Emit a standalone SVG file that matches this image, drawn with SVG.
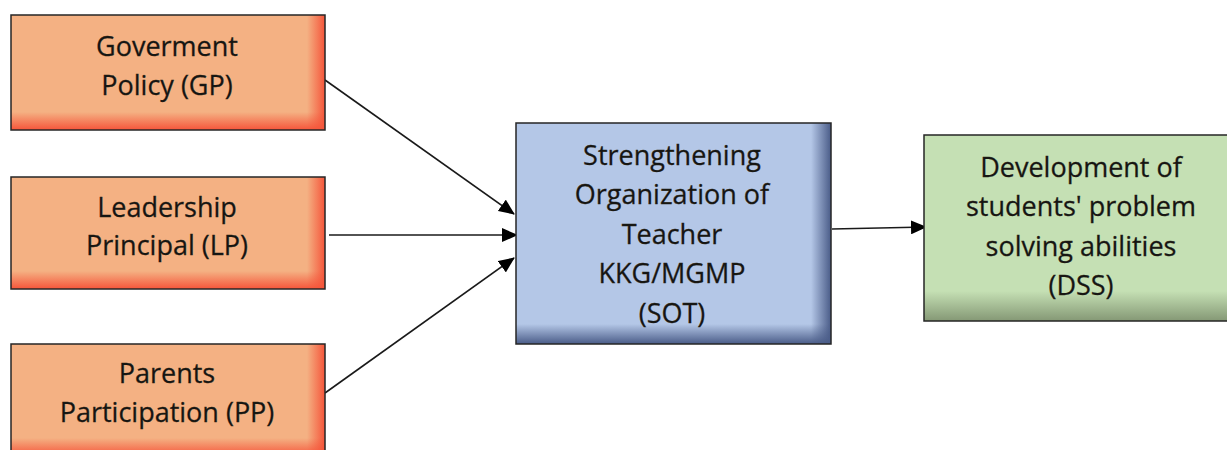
<svg xmlns="http://www.w3.org/2000/svg" width="1227" height="450" viewBox="0 0 1227 450">
<style>
.box{stroke:#262626;stroke-width:1.5}
.lbl{font-family:"Open Sans","Liberation Sans",sans-serif;font-size:27px;fill:#141414;stroke:#2a2410;stroke-width:0.3;text-anchor:middle}
.conn{stroke:#1a1a1a;stroke-width:1.6;fill:none;marker-end:url(#ah)}
</style>
<defs>
<marker id="ah" viewBox="0 0 16 14" refX="15" refY="7" markerWidth="16" markerHeight="14" markerUnits="userSpaceOnUse" orient="auto">
<path d="M0,0 L16,7 L0,14 Z" fill="#000"/>
</marker>
<linearGradient id="oR" x1="0" y1="0" x2="1" y2="0"><stop offset="0" stop-color="#F5553A" stop-opacity="0"/><stop offset="1" stop-color="#F5553A" stop-opacity="1"/></linearGradient>
<linearGradient id="oB" x1="0" y1="0" x2="0" y2="1"><stop offset="0" stop-color="#F5553A" stop-opacity="0"/><stop offset="1" stop-color="#F5553A" stop-opacity="1"/></linearGradient>
<linearGradient id="bR" x1="0" y1="0" x2="1" y2="0"><stop offset="0" stop-color="#4A5C88" stop-opacity="0"/><stop offset="1" stop-color="#4A5C88" stop-opacity="1"/></linearGradient>
<linearGradient id="bB" x1="0" y1="0" x2="0" y2="1"><stop offset="0" stop-color="#4A5C88" stop-opacity="0"/><stop offset="1" stop-color="#4A5C88" stop-opacity="1"/></linearGradient>
<linearGradient id="gB" x1="0" y1="0" x2="0" y2="1"><stop offset="0" stop-color="#6F8060" stop-opacity="0"/><stop offset="1" stop-color="#6F8060" stop-opacity="1"/></linearGradient>
</defs>

<g id="connectors">
<line class="conn" x1="325" y1="80" x2="514" y2="214"/>
<line class="conn" x1="329" y1="235" x2="517" y2="235"/>
<line class="conn" x1="325" y1="393" x2="514" y2="258"/>
<line class="conn" x1="832" y1="229" x2="926" y2="227"/>
</g>

<g id="GP">
<rect x="11" y="15" width="314" height="115" fill="#F4B183"/>
<rect x="307" y="15" width="18" height="115" fill="url(#oR)"/>
<rect x="11" y="112" width="314" height="18" fill="url(#oB)"/>
<rect class="box" x="11" y="15" width="314" height="115" fill="none"/>
<text class="lbl" x="167" y="56">Goverment</text>
<text class="lbl" x="167" y="95">Policy (GP)</text>
</g>

<g id="LP">
<rect x="11" y="177" width="314" height="112" fill="#F4B183"/>
<rect x="307" y="177" width="18" height="112" fill="url(#oR)"/>
<rect x="11" y="271" width="314" height="18" fill="url(#oB)"/>
<rect class="box" x="11" y="177" width="314" height="112" fill="none"/>
<text class="lbl" x="167" y="217">Leadership</text>
<text class="lbl" x="167" y="255">Principal (LP)</text>
</g>

<g id="PP">
<rect x="11" y="344" width="314" height="112" fill="#F4B183"/>
<rect x="307" y="344" width="18" height="112" fill="url(#oR)"/>
<rect x="11" y="438" width="314" height="18" fill="url(#oB)"/>
<rect class="box" x="11" y="344" width="314" height="112" fill="none"/>
<text class="lbl" x="167" y="383">Parents</text>
<text class="lbl" x="167" y="422">Participation (PP)</text>
</g>

<g id="SOT">
<rect x="516" y="123" width="315" height="221" fill="#B4C7E7"/>
<rect x="811" y="123" width="20" height="221" fill="url(#bR)"/>
<rect x="516" y="324" width="315" height="20" fill="url(#bB)"/>
<rect class="box" x="516" y="123" width="315" height="221" fill="none"/>
<text class="lbl" x="672" y="165">Strengthening</text>
<text class="lbl" x="672" y="204">Organization of</text>
<text class="lbl" x="672" y="244">Teacher</text>
<text class="lbl" x="672" y="283">KKG/MGMP</text>
<text class="lbl" x="672" y="323">(SOT)</text>
</g>

<g id="DSS">
<rect x="924" y="135" width="314" height="186" fill="#C5E0B4"/>
<rect x="924" y="291" width="314" height="30" fill="url(#gB)" opacity="0.75"/>
<rect class="box" x="924" y="135" width="314" height="186" fill="none"/>
<text class="lbl" x="1081" y="177">Development of</text>
<text class="lbl" x="1081" y="216">students' problem</text>
<text class="lbl" x="1081" y="256">solving abilities</text>
<text class="lbl" x="1081" y="295">(DSS)</text>
</g>
</svg>
